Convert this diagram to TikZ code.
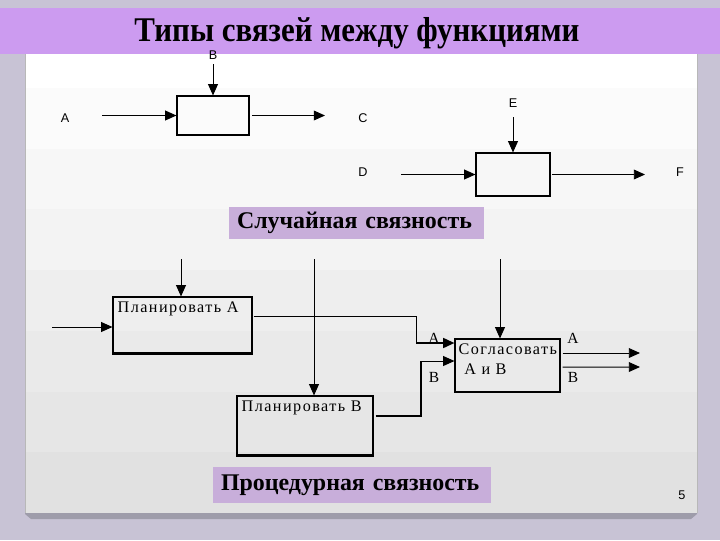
\documentclass[tikz,border=0pt]{standalone}
\usepackage{fontspec}
\setmainfont{Liberation Serif}
\newfontfamily\lblfont{Liberation Sans}
\newfontfamily\boxfont[LetterSpace=9]{Liberation Serif}
\usetikzlibrary{positioning, arrows.meta, calc}
\definecolor{slidebg}{RGB}{200,195,213}
\definecolor{titleband}{RGB}{204,155,240}
\definecolor{capfill}{RGB}{200,174,218}
\definecolor{panelshadow}{RGB}{158,156,170}
\newcommand{\pxu}{0.025cm}

\begin{document}
\begin{tikzpicture}[
  x=0.025cm, y=-0.025cm,
  >={Triangle[length=8pt,width=7pt]},
  flow/.style={->, line width=0.7pt},
  fnbox/.style={draw=black, line width=0.8pt, inner sep=0pt},
  toplbl/.style={font=\lblfont\fontsize{9}{10}\selectfont, inner sep=0pt},
  arclbl/.style={font=\fontsize{11}{12}\selectfont, inner sep=0pt},
  boxtxt/.style={font=\boxfont\fontsize{11.5}{14}\selectfont, inner sep=0pt, align=left, anchor=north west},
  caption/.style={fill=capfill, inner ysep=0pt, inner xsep=8*\pxu, align=left,
    font=\bfseries\fontsize{17}{18}\selectfont},
]

% ---- slide background ----
\useasboundingbox (0,0) rectangle (720,540);
\fill[slidebg] (0,0) rectangle (720,540);

% panel shadow + panel with stepped bands
\fill[panelshadow] (25,505) -- (697,505) -- (697,514) -- (691,519) -- (31,519) -- (25,514) -- cycle;
\foreach \i in {0,...,7}{
  \pgfmathsetmacro{\tint}{\i*1.65}
  \fill[black!\tint] (25,{27+\i*60.75}) rectangle (697,{27+(\i+1)*60.75});
}
\draw[black!28, line width=0.5pt] (25,27) -- (25,513) (697,27) -- (697,513);

% title band
\fill[titleband] (0,8) rectangle (720,54);
\node[font=\bfseries\fontsize{22}{24}\selectfont, inner sep=0pt, yscale=1.12] (title) at (357,33)
  {Типы связей между функциями};

% =====================================================
% CASUAL LINKAGE (top)
% =====================================================
\node[fnbox, minimum width=72*\pxu, minimum height=39*\pxu] (fone) at (213,115.5) {};
\node[fnbox, minimum width=74*\pxu, minimum height=43*\pxu] (ftwo) at (513,174.5) {};

\node[toplbl] (lblB) at (213,55) {B};
\node[toplbl] (lblA) at (65,118) {A};
\node[toplbl] (lblC) at (363,118) {C};
\node[toplbl] (lblE) at (513,103) {E};
\node[toplbl] (lblD) at (363,172) {D};
\node[toplbl] (lblF) at (680,172) {F};

\coordinate (ctlB) at (213,64);
\coordinate (inA)  at (102,115.5);
\coordinate (outC) at (325,115.5);
\coordinate (ctlE) at (513,117);
\coordinate (inD)  at (401,174.5);
\coordinate (outF) at (645,174.5);

\draw[flow] (ctlB) -- (fone.north);
\draw[flow] (inA) -- (fone.west);
\draw[flow, shorten <=2pt] (fone.east) -- (outC);
\draw[flow] (ctlE) -- (ftwo.north);
\draw[flow] (inD) -- (ftwo.west);
\draw[flow, shorten <=1pt] (ftwo.east) -- (outF);

\node[caption, text width=239*\pxu, minimum height=32*\pxu] (capone) at (356.5,223)
  {Случайная связность};

% =====================================================
% PROCEDURAL LINKAGE (bottom)
% =====================================================
\node[fnbox, minimum width=139*\pxu, minimum height=56*\pxu] (planA) at (182.5,325) {};
\node[fnbox, minimum width=136*\pxu, minimum height=59*\pxu] (planB) at (305,425.5) {};
\node[fnbox, minimum width=105*\pxu, minimum height=53*\pxu] (agree) at (507.5,365.5) {};
% heavier bottom edges
\draw[line width=1.5pt] (planA.south west) -- (planA.south east);
\draw[line width=1.5pt] (planB.south west) -- (planB.south east);

\node[boxtxt] (planAtxt) at ($(planA.north west)+(5,5)$) {Планировать А};
\node[boxtxt] (planBtxt) at ($(planB.north west)+(5,5)$) {Планировать В};
\node[boxtxt] (agreetxt) at ($(agree.north west)+(4,5)$)
  {Согласовать\\\hspace*{4pt}А и В};

\coordinate (ctlPA) at (181,259);
\coordinate (inPA)  at (52,327);
\coordinate (ctlPB) at (314,259);
\coordinate (ctlAg) at (500,259);
\coordinate (aIn)   at ($(agree.west)+(0,-22.5)$);
\coordinate (bIn)   at ($(agree.west)+(0,-4.5)$);
\coordinate (outA)  at (640,353);
\coordinate (outB)  at (640,367);

\draw[flow] (ctlPA) -- (ctlPA |- planA.north);
\draw[flow] (inPA) -- (inPA -| planA.west);
\draw[flow] (ctlPB) -- (ctlPB |- planB.north);
\draw[flow] (ctlAg) -- (ctlAg |- agree.north);

\draw[line width=0.7pt] ($(planA.east)+(1,-9)$) -| ($(aIn)+(-38,0)$);
\draw[flow, line width=1.4pt] ($(aIn)+(-38,0)$) -- (aIn);
\draw[line width=1.4pt] ($(planB.east)+(2,-9.5)$) -| ($(bIn)+(-33,0)$);
\draw[flow] ($(bIn)+(-33,0)$) -- (bIn);

\draw[flow] ($(agree.east)+(2,-12.5)$) -- (outA);
\draw[flow] ($(agree.east)+(2,1.5)$) -- (outB);

\node[arclbl] (inAl)  at (434,338) {A};
\node[arclbl] (inBl)  at (434,377) {B};
\node[arclbl] (outAl) at (573,338) {A};
\node[arclbl] (outBl) at (573,377) {B};

\node[caption, text width=262*\pxu, minimum height=36*\pxu] (captwo) at (352,485)
  {Процедурная связность};

\node[font=\lblfont\fontsize{9}{10}\selectfont, inner sep=0pt] (pageno) at (682,495) {5};

\end{tikzpicture}
\end{document}
